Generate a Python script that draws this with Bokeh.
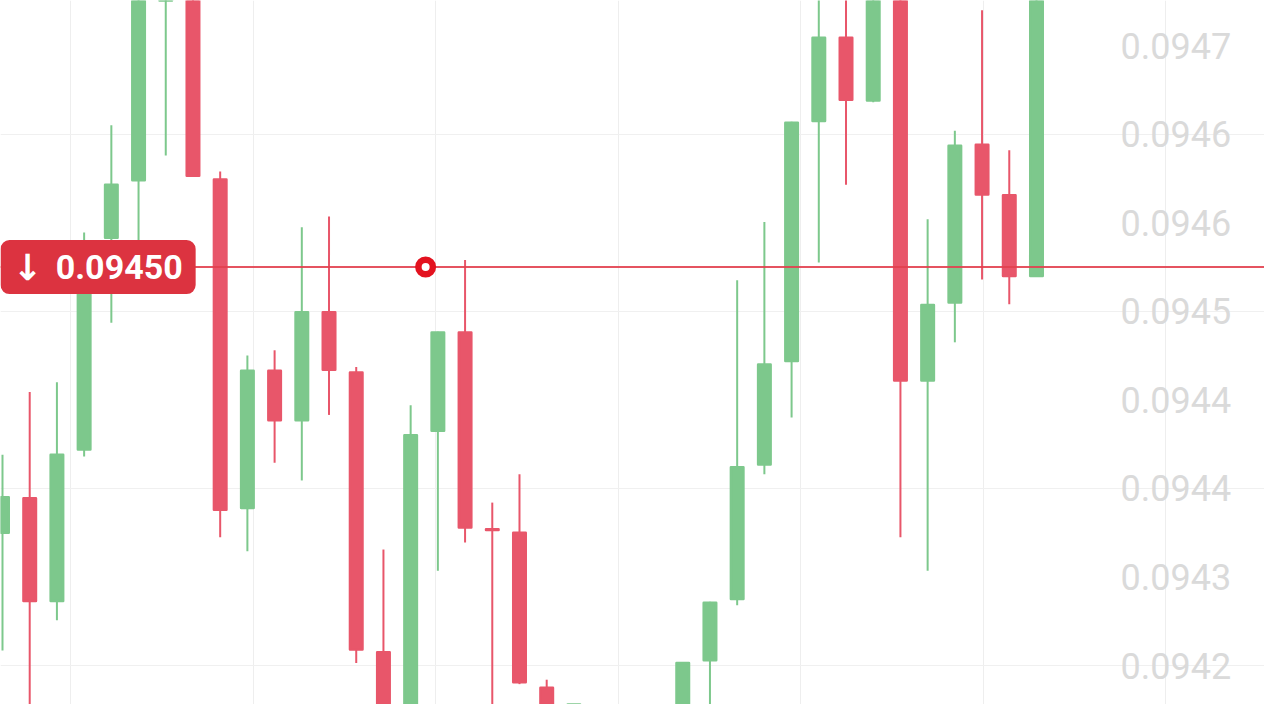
from bokeh.plotting import figure
from bokeh.models import ColumnDataSource, FixedTicker, Label
from bokeh.core.properties import value
from bokeh.embed import file_html
from bokeh.resources import INLINE

# ---- data ----
idx = [0, 1, 2, 3, 4, 5, 6, 7, 8, 9, 10, 11, 12, 13, 14, 15, 16, 17, 18, 19, 20, 21,
       25, 26, 27, 28, 29, 30, 31, 32, 33, 34, 35, 36, 37, 38]
open_ = [0.094200, 0.094239, 0.094123, 0.094294, 0.094533, 0.094598, 0.094816, 0.094900,
         0.094599, 0.094228, 0.094383, 0.094327, 0.094449, 0.094381, 0.094065, 0.093986,
         0.094315, 0.094426, 0.094204, 0.094200, 0.094025, 0.093980,
         0.093970, 0.094056, 0.094125, 0.094277, 0.094394, 0.094665, 0.094759, 0.094688,
         0.094860, 0.094372, 0.094460, 0.094638, 0.094581, 0.094490]
close = [0.094240, 0.094123, 0.094288, 0.094477, 0.094593, 0.094832, 0.094900, 0.094603,
         0.094226, 0.094383, 0.094327, 0.094449, 0.094384, 0.094068, 0.094006, 0.094310,
         0.094426, 0.094206, 0.094203, 0.094031, 0.093970, 0.093995,
         0.094053, 0.094121, 0.094274, 0.094390, 0.094663, 0.094759, 0.094689, 0.094850,
         0.094372, 0.094457, 0.094637, 0.094582, 0.094490, 0.094850]
high = [0.094288, 0.094359, 0.094370, 0.094539, 0.094660, 0.094850, 0.094920, 0.094920,
        0.094608, 0.094400, 0.094406, 0.094545, 0.094557, 0.094387, 0.094181, 0.094344,
        0.094427, 0.094508, 0.094234, 0.094266, 0.094034, 0.094003,
        0.094054, 0.094122, 0.094485, 0.094551, 0.094664, 0.094850, 0.094840, 0.094860,
        0.094870, 0.094554, 0.094654, 0.094790, 0.094632, 0.094860]
low = [0.094067, 0.093974, 0.094101, 0.094286, 0.094437, 0.094530, 0.094626, 0.094602,
       0.094195, 0.094179, 0.094279, 0.094259, 0.094333, 0.094053, 0.093952, 0.093970,
       0.094157, 0.094189, 0.093960, 0.094029, 0.093960, 0.093950,
       0.093960, 0.093980, 0.094118, 0.094266, 0.094330, 0.094505, 0.094593, 0.094686,
       0.094195, 0.094157, 0.094415, 0.094486, 0.094458, 0.094489]

tick_values = [0.09475, 0.09465, 0.09455, 0.09445, 0.09435, 0.09425, 0.09415, 0.09405]
tick_labels = ["0.0947", "0.0946", "0.0946", "0.0945", "0.0944", "0.0944", "0.0943", "0.0942"]
grid_values = [0.09465, 0.09445, 0.09425, 0.09405]
last_price = 0.09450
last_price_text = "0.09450"
arrow_text = "\u2193"
marker_idx = 15.55

GREEN = "#7dc88c"
RED = "#e8566a"

colors = [GREEN if c >= o else RED for o, c in zip(open_, close)]
src = ColumnDataSource(dict(
    x=idx, top=[max(o, c) for o, c in zip(open_, close)],
    bottom=[min(o, c) for o, c in zip(open_, close)],
    high=high, low=low, color=colors))

p = figure(width=1264, height=704, output_backend="svg", toolbar_location=None,
           x_range=(-0.0735, 46.38), y_range=(0.094006, 0.094801),
           x_axis_location=None, y_axis_location=None, min_border=0)
p.outline_line_color = None
p.background_fill_color = "white"
p.border_fill_color = "white"

p.xgrid.ticker = FixedTicker(ticks=[2.5 + k * 6.707 for k in range(7)])
p.ygrid.ticker = FixedTicker(ticks=grid_values)
p.xgrid.grid_line_color = "#eeeeee"
p.ygrid.grid_line_color = "#f0f0f0"

p.segment(x0="x", x1="x", y0="low", y1="high", color="color", line_width=2, source=src)
p.vbar(x="x", top="top", bottom="bottom", width=0.46, fill_color="color",
       line_color="color", line_width=2.5, line_join="round", source=src)

# last-price line drawn over the candles, under the marker
p.line(x=[p.x_range.start, p.x_range.end], y=[last_price, last_price],
       line_color="#e2404f", line_width=2, line_alpha=0.9)

p.scatter([marker_idx], [last_price], size=21, fill_color="#e3121f", line_color=None)
p.scatter([marker_idx], [last_price], size=8, fill_color="white", line_color=None)

p.text(x=[41.09] * len(tick_values), y=tick_values, text=tick_labels,
       text_font=value("Roboto"), text_font_size="36px", text_color="#dadada",
       text_align="left", text_baseline="middle")

# price tag: box with value, arrow drawn on top at its left
p.add_layout(Label(x=-0.0735, y=last_price, text="\u00a0" * 5 + last_price_text,
                   text_color="white", text_font="Roboto", text_font_style="bold",
                   text_font_size="34px", text_align="left", text_baseline="middle",
                   background_fill_color="#dc3340", border_radius=9, padding=(13, 7)))
p.add_layout(Label(x=-0.0735, y=last_price, x_offset=12, text=arrow_text,
                   text_color="white", text_font="DejaVu Sans", text_font_style="bold",
                   text_font_size="36px", text_align="left", text_baseline="middle"))

open("out.html", "w").write(file_html(p, INLINE))
